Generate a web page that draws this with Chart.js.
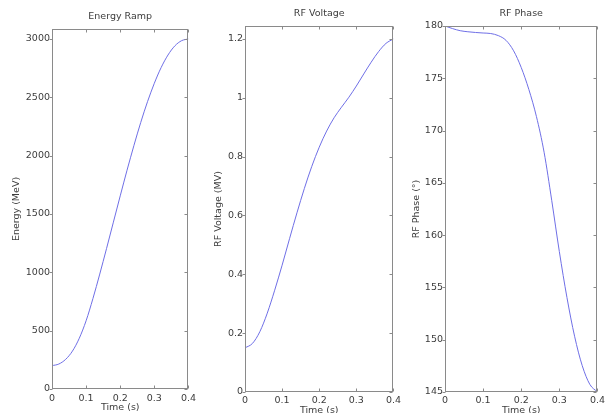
<!DOCTYPE html>
<html>
<head>
<meta charset="utf-8">
<script src="https://cdn.jsdelivr.net/npm/chart.js@4/dist/chart.umd.min.js"></script>
<style>
  html, body { margin: 0; padding: 0; background: #fff; overflow: hidden; }
  body { width: 608px; height: 413px; position: relative; }
  canvas { position: absolute; top: 0; }
</style>
</head>
<body>
<canvas id="grafico-energia" width="200" height="420" style="left:0px"></canvas>
<canvas id="grafico-tensao" width="204" height="420" style="left:200px"></canvas>
<canvas id="grafico-fase" width="208" height="420" style="left:400px"></canvas>
<script>
// Dados
const tempos = [0, 0.02, 0.04, 0.06, 0.08, 0.1, 0.12, 0.14, 0.16, 0.18, 0.2,
  0.22, 0.24, 0.26, 0.28, 0.3, 0.32, 0.34, 0.36, 0.38, 0.4];
const energia = [200, 214, 254, 325, 435, 585, 775, 985, 1205, 1430, 1655,
  1875, 2085, 2283, 2462, 2620, 2755, 2862, 2940, 2985, 3000];
const tensao = [0.15, 0.165, 0.205, 0.268, 0.346, 0.431, 0.521, 0.609, 0.692, 0.767, 0.832,
  0.887, 0.932, 0.968, 1.002, 1.04, 1.081, 1.121, 1.157, 1.185, 1.2];
const fase = [180, 179.75, 179.55, 179.45, 179.38, 179.33, 179.28, 179.08, 178.63, 177.63, 176.03,
  173.93, 171.33, 167.93, 163.33, 158.43, 154.03, 150.33, 147.53, 145.73, 145];

// Rótulos dos eixos
const ticksTempo = [0, 0.1, 0.2, 0.3, 0.4];
const ticksEnergia = [0, 500, 1000, 1500, 2000, 2500, 3000];
const ticksTensao = [0, 0.2, 0.4, 0.6, 0.8, 1, 1.2];
const ticksFase = [145, 150, 155, 160, 165, 170, 175, 180];

const corLinha = '#6f6fe6';
const corEixo = '#8a8a8a';
const corTexto = '#3c3c3c';
const fonte = { family: 'DejaVu Sans, sans-serif', size: 9.5 };

// Plugin para desenhar a caixa e os traços dos ticks (estilo Matlab)
const moldura = {
  id: 'moldura',
  afterDatasetsDraw(chart) {
    const { ctx, chartArea: a, scales: { x, y } } = chart;
    const l = Math.round(a.left) + 0.5, r = Math.round(a.right) - 0.5;
    const t = Math.round(a.top) + 0.5, b = Math.round(a.bottom) - 0.5;
    ctx.save();
    ctx.strokeStyle = corEixo;
    ctx.lineWidth = 1;
    ctx.strokeRect(l, t, r - l, b - t);
    ctx.beginPath();
    x.ticks.forEach(tk => {
      const px = Math.round(x.getPixelForValue(tk.value)) + 0.5;
      ctx.moveTo(px, b); ctx.lineTo(px, b - 3);
      ctx.moveTo(px, t); ctx.lineTo(px, t + 3);
    });
    y.ticks.forEach(tk => {
      const py = Math.round(y.getPixelForValue(tk.value)) + 0.5;
      ctx.moveTo(l - 3, py); ctx.lineTo(l, py);
      ctx.moveTo(r, py); ctx.lineTo(r - 3, py);
    });
    ctx.stroke();
    ctx.restore();
  }
};

// Função para criar cada painel
function criarPainel(id, titulo, rotuloY, valores, ticksY, cfg) {
  const ctx = document.getElementById(id).getContext('2d');

  // Título centrado sobre a área do gráfico
  const tituloPainel = {
    id: 'tituloPainel',
    afterDraw(chart) {
      const a = chart.chartArea;
      const c = chart.ctx;
      c.save();
      c.fillStyle = corTexto;
      c.font = fonte.size + 'px ' + fonte.family;
      c.textAlign = 'center';
      c.textBaseline = 'middle';
      c.fillText(titulo, (a.left + a.right) / 2, cfg.tituloCentro);
      c.restore();
    }
  };

  return new Chart(ctx, {
    type: 'line',
    data: {
      datasets: [{
        data: tempos.map((t, i) => ({ x: t, y: valores[i] })),
        borderColor: corLinha,
        borderWidth: 1,
        pointRadius: 0,
        cubicInterpolationMode: 'monotone',
        fill: false
      }]
    },
    options: {
      responsive: false,
      animation: false,
      layout: { padding: { left: 0, right: cfg.direita, top: cfg.topo, bottom: 0 } },
      plugins: {
        legend: { display: false },
        tooltip: { enabled: false },
        title: { display: false }
      },
      scales: {
        x: {
          type: 'linear',
          min: 0,
          max: 0.4,
          grid: { display: false, drawTicks: false },
          border: { display: false },
          afterBuildTicks: s => { s.ticks = ticksTempo.map(v => ({ value: v })); },
          afterFit: s => { s.height = cfg.alturaX; },
          ticks: {
            color: corTexto,
            font: fonte,
            padding: cfg.padX,
            maxRotation: 0,
            callback: v => String(v)
          },
          title: {
            display: true,
            text: 'Time (s)',
            color: corTexto,
            font: fonte,
            padding: { top: 0, bottom: cfg.tituloX }
          }
        },
        y: {
          min: cfg.min,
          max: cfg.max,
          grid: { display: false, drawTicks: false },
          border: { display: false },
          afterBuildTicks: s => { s.ticks = ticksY.map(v => ({ value: v })); },
          afterFit: s => { s.width = cfg.larguraY; },
          ticks: {
            color: corTexto,
            font: fonte,
            padding: 2,
            callback: v => String(v)
          },
          title: {
            display: true,
            text: rotuloY,
            color: corTexto,
            font: fonte,
            padding: { top: cfg.tituloY, bottom: 0 }
          }
        }
      }
    },
    plugins: [moldura, tituloPainel]
  });
}

criarPainel('grafico-energia', 'Energy Ramp', 'Energy (MeV)', energia, ticksEnergia, {
  min: 0, max: 3085, larguraY: 52, direita: 7, topo: 29, padX: 4,
  alturaX: 31, tituloX: 6.8, tituloCentro: 17, tituloY: 11.3
});
criarPainel('grafico-tensao', 'RF Voltage', 'RF Voltage (MV)', tensao, ticksTensao, {
  min: 0, max: 1.244, larguraY: 45, direita: 8, topo: 26, padX: 3,
  alturaX: 28, tituloX: 3.3, tituloCentro: 13.5, tituloY: 13.3
});
criarPainel('grafico-fase', 'RF Phase', 'RF Phase (°)', fase, ticksFase, {
  min: 145, max: 180, larguraY: 45, direita: 9, topo: 26, padX: 3,
  alturaX: 28, tituloX: 3.3, tituloCentro: 13.5, tituloY: 11.3
});
</script>
</body>
</html>
